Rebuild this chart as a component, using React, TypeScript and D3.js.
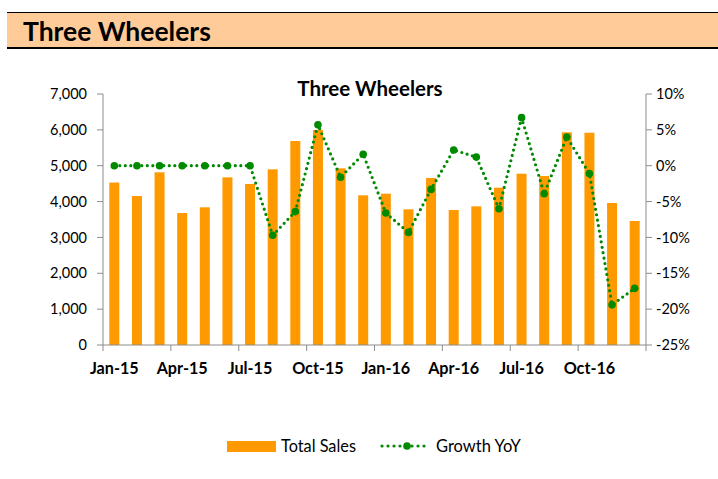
import React from "react";
import * as d3 from "d3";

const months = [
  "Jan-15","Feb-15","Mar-15","Apr-15","May-15","Jun-15","Jul-15","Aug-15","Sep-15","Oct-15","Nov-15","Dec-15",
  "Jan-16","Feb-16","Mar-16","Apr-16","May-16","Jun-16","Jul-16","Aug-16","Sep-16","Oct-16","Nov-16","Dec-16",
];
const totalSales = [
  4530, 4155, 4816, 3681, 3840, 4676, 4490, 4899, 5689, 5996, 4927, 4174,
  4220, 3784, 4657, 3765, 3867, 4387, 4777, 4713, 5931, 5920, 3960, 3458,
];
const growthYoY = [
  0, 0, 0, 0, 0, 0, 0, -9.7, -6.4, 5.7, -1.6, 1.6,
  -6.6, -9.3, -3.3, 2.2, 1.2, -6.0, 6.7, -3.9, 4.0, -1.1, -19.4, -17.1,
];
const leftTicks = [0, 1000, 2000, 3000, 4000, 5000, 6000, 7000];
const rightTicks = [10, 5, 0, -5, -10, -15, -20, -25];
const xLabelIdx = [0, 3, 6, 9, 12, 15, 18, 21];

const FONT = "Lato, 'Open Sans', sans-serif";
const ORANGE = "#FF9900";
const GREEN = "#008A00";
const AXIS = "#8c8c8c";

export default function App() {
  const left = 103, right = 646, top = 94, bottom = 345;
  const x = d3.scaleBand<number>().domain(d3.range(months.length)).range([left, right]).paddingInner(0).paddingOuter(0);
  const yL = d3.scaleLinear().domain([0, 7000]).range([bottom, top]);
  const yR = d3.scaleLinear().domain([-25, 10]).range([bottom, top]);
  const bw = 10;
  const cx = (i: number) => (x(i) as number) + x.bandwidth() / 2;
  const line = d3.line<number>().x((_, i) => cx(i)).y((d) => yR(d));
  const fmt = d3.format(",");

  return (
    <svg width={718} height={479} style={{ position: "absolute", left: 0, top: 0 }} fontFamily={FONT}>
      <rect x={0} y={0} width={718} height={479} fill="#fff" />
      {/* header band */}
      <rect x={7} y={12} width={711} height={36} fill="#FFCC99" />
      <line x1={7} x2={718} y1={12.5} y2={12.5} stroke="#000" strokeWidth={1} />
      <line x1={7} x2={718} y1={48} y2={48} stroke="#000" strokeWidth={2} />
      <text x={23} y={41} fontSize={26.5} fontWeight="bold" fill="#000">Three Wheelers</text>

      {/* chart title */}
      <text x={370} y={96} fontSize={20.5} fontWeight="bold" textAnchor="middle" fill="#000">Three Wheelers</text>

      {/* bars */}
      {totalSales.map((v, i) => (
        <rect key={i} x={cx(i) - bw / 2} y={yL(v)} width={bw} height={yL(0) - yL(v)} fill={ORANGE} />
      ))}

      {/* axes */}
      <line x1={left} x2={left} y1={top} y2={bottom} stroke={AXIS} />
      <line x1={right} x2={right} y1={top} y2={bottom} stroke={AXIS} />
      <line x1={left} x2={right} y1={bottom} y2={bottom} stroke={AXIS} />
      {leftTicks.map((t) => (
        <g key={t}>
          <line x1={left - 6} x2={left} y1={yL(t)} y2={yL(t)} stroke={AXIS} />
          <text x={87} y={yL(t)} dy="0.35em" fontSize={14.5} textAnchor="end" fill="#000">{fmt(t)}</text>
        </g>
      ))}
      {rightTicks.map((t) => (
        <g key={t}>
          <line x1={right} x2={right + 6} y1={yR(t)} y2={yR(t)} stroke={AXIS} />
          <text x={656} y={yR(t)} dy="0.35em" fontSize={14.5} textAnchor="start" fill="#000">{t}%</text>
        </g>
      ))}
      {d3.range(0, months.length + 1, 3).map((i) => {
        const xx = i < months.length ? (x(i) as number) : right;
        return <line key={i} x1={xx} x2={xx} y1={bottom} y2={bottom + 6} stroke={AXIS} />;
      })}
      {xLabelIdx.map((i) => (
        <text key={i} x={cx(i)} y={374} fontSize={16.2} fontWeight="bold" textAnchor="middle" fill="#000">{months[i]}</text>
      ))}

      {/* growth line */}
      <path d={line(growthYoY) as string} fill="none" stroke={GREEN} strokeWidth={3.2} strokeLinecap="round" strokeDasharray="0 5.5" />
      {growthYoY.map((v, i) => (
        <circle key={i} cx={cx(i)} cy={yR(v)} r={3.8} fill={GREEN} />
      ))}

      {/* legend */}
      <rect x={227} y={441} width={49} height={11} fill={ORANGE} />
      <text x={281} y={452} fontSize={16.3} fill="#000">Total Sales</text>
      <line x1={382} x2={427} y1={446} y2={446} stroke={GREEN} strokeWidth={3.2} strokeLinecap="round" strokeDasharray="0 6" />
      <circle cx={407} cy={446} r={3.8} fill={GREEN} />
      <text x={436} y={452} fontSize={16.5} fill="#000">Growth YoY</text>
    </svg>
  );
}
